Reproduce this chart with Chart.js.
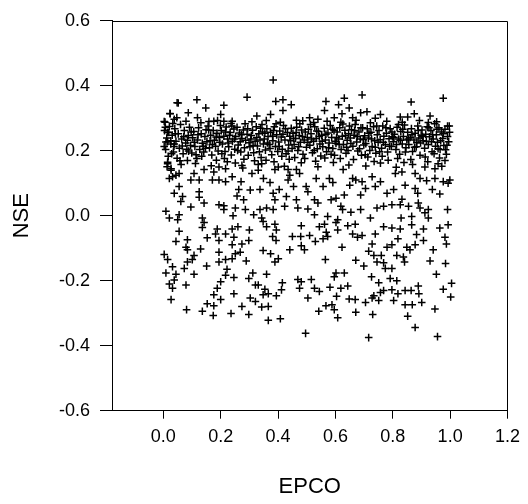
<!DOCTYPE html>
<html>
<head>
<meta charset="utf-8">
<script src="https://cdn.jsdelivr.net/npm/chart.js@4.4.1/dist/chart.umd.min.js"></script>
<style>
  html, body { margin: 0; padding: 0; background: #fff; }
</style>
</head>
<body>
<canvas id="chart" width="528" height="504"></canvas>
<script>
// --- DATA ---
const xTicks = [0.0, 0.2, 0.4, 0.6, 0.8, 1.0, 1.2];
const yTicks = [-0.6, -0.4, -0.2, 0.0, 0.2, 0.4, 0.6];

// [EPCO, NSE] pairs, split by height
const topPoints = [
  [0.048,0.348],[0.023,0.315],[0.006,0.288],[0.038,0.297],
  [0.052,0.347],[0.117,0.357],[0.148,0.332],[0.211,0.340],[0.292,0.365],[0.024,0.314],
  [0.047,0.302],[0.087,0.317],[0.119,0.302],[0.200,0.312],[0.003,0.290],[0.159,0.290],
  [0.176,0.291],[0.211,0.291],[0.240,0.291],[0.326,0.307],
  [0.383,0.418],[0.392,0.352],[0.417,0.357],[0.446,0.342],[0.417,0.324],[0.374,0.312],
  [0.567,0.352],[0.631,0.362],[0.611,0.342],[0.562,0.324],[0.648,0.332],[0.623,0.314],
  [0.464,0.294],[0.510,0.302],[0.539,0.297],[0.596,0.302],[0.660,0.302],
  [0.693,0.372],[0.864,0.350],[0.976,0.362],[0.688,0.317],[0.710,0.320],[0.757,0.312],
  [0.739,0.300],[0.826,0.304],[0.852,0.304],[0.875,0.314],[0.930,0.307],[0.924,0.287],
  [0.991,0.276],[0.820,0.281]
];

const bandPoints = [
  [0.004,0.262],[0.008,0.204],[0.012,0.239],[0.017,0.183],[0.021,0.275],[0.026,0.221],[0.031,0.248],
  [0.035,0.196],[0.040,0.268],[0.044,0.229],[0.048,0.177],[0.003,0.213],[0.019,0.256],[0.037,0.213],
  [0.052,0.252],[0.056,0.208],[0.060,0.281],[0.064,0.236],[0.069,0.191],[0.073,0.262],[0.078,0.224],
  [0.082,0.205],[0.087,0.247],[0.091,0.272],[0.095,0.216],[0.099,0.193],[0.066,0.215],[0.084,0.232],
  [0.102,0.240],[0.106,0.259],[0.110,0.213],[0.114,0.188],[0.119,0.233],[0.123,0.271],[0.127,0.204],
  [0.132,0.252],[0.136,0.223],[0.141,0.196],[0.145,0.244],[0.149,0.265],[0.117,0.176],[0.139,0.214],
  [0.152,0.228],[0.156,0.276],[0.161,0.209],[0.165,0.248],[0.169,0.187],[0.174,0.262],[0.178,0.232],
  [0.182,0.214],[0.187,0.254],[0.191,0.199],[0.195,0.241],[0.199,0.278],[0.163,0.231],[0.185,0.171],
  [0.202,0.262],[0.206,0.221],[0.211,0.245],[0.215,0.198],[0.219,0.273],[0.224,0.236],[0.228,0.212],
  [0.233,0.256],[0.237,0.187],[0.241,0.229],[0.246,0.267],[0.249,0.205],[0.213,0.176],[0.231,0.248],
  [0.252,0.244],[0.257,0.272],[0.261,0.218],[0.265,0.255],[0.270,0.196],[0.274,0.238],[0.279,0.264],
  [0.283,0.209],[0.287,0.232],[0.292,0.251],[0.296,0.186],[0.299,0.225],[0.268,0.228],[0.285,0.283],
  [0.302,0.212],[0.307,0.247],[0.311,0.263],[0.315,0.194],[0.320,0.229],[0.324,0.274],[0.328,0.215],
  [0.333,0.252],[0.337,0.233],[0.341,0.179],[0.346,0.258],[0.349,0.221],[0.318,0.169],[0.339,0.269],
  [0.352,0.236],[0.356,0.202],[0.361,0.268],[0.365,0.244],[0.369,0.219],[0.374,0.257],[0.378,0.188],
  [0.382,0.231],[0.387,0.274],[0.391,0.213],[0.395,0.249],[0.399,0.198],[0.358,0.171],[0.384,0.262],
  [0.402,0.227],[0.406,0.261],[0.411,0.242],[0.415,0.205],[0.419,0.278],[0.424,0.233],[0.428,0.191],
  [0.433,0.256],[0.437,0.218],[0.441,0.245],[0.446,0.269],[0.449,0.207],[0.413,0.183],[0.439,0.174],
  [0.452,0.254],[0.456,0.219],[0.461,0.238],[0.465,0.272],[0.469,0.201],[0.474,0.247],[0.478,0.226],
  [0.482,0.264],[0.487,0.189],[0.491,0.233],[0.495,0.258],[0.499,0.211],[0.458,0.179],[0.476,0.283],
  [0.502,0.241],[0.506,0.266],[0.511,0.217],[0.515,0.252],[0.520,0.194],[0.524,0.229],[0.528,0.274],
  [0.533,0.238],[0.537,0.206],[0.541,0.259],[0.546,0.221],[0.549,0.184],[0.513,0.281],[0.531,0.168],
  [0.552,0.248],[0.556,0.212],[0.561,0.269],[0.565,0.233],[0.569,0.197],[0.574,0.255],[0.578,0.224],
  [0.582,0.278],[0.587,0.241],[0.591,0.207],[0.595,0.262],[0.599,0.229],[0.563,0.178],[0.585,0.189],
  [0.602,0.223],[0.606,0.258],[0.611,0.236],[0.615,0.271],[0.620,0.204],[0.624,0.245],[0.628,0.219],
  [0.633,0.263],[0.637,0.192],[0.641,0.232],[0.646,0.252],[0.649,0.276],[0.617,0.176],[0.639,0.211],
  [0.652,0.239],[0.656,0.265],[0.661,0.214],[0.665,0.248],[0.669,0.281],[0.674,0.227],[0.678,0.199],
  [0.682,0.258],[0.687,0.236],[0.691,0.186],[0.695,0.271],[0.699,0.218],[0.663,0.173],[0.684,0.206],
  [0.702,0.246],[0.706,0.222],[0.711,0.268],[0.715,0.239],[0.720,0.201],[0.724,0.257],[0.728,0.213],
  [0.733,0.274],[0.737,0.231],[0.741,0.192],[0.746,0.249],[0.749,0.226],[0.713,0.181],[0.735,0.167],
  [0.752,0.262],[0.756,0.234],[0.761,0.208],[0.765,0.276],[0.769,0.245],[0.774,0.219],[0.778,0.254],
  [0.782,0.196],[0.787,0.237],[0.791,0.268],[0.795,0.213],[0.799,0.243],[0.763,0.183],[0.784,0.171],
  [0.802,0.228],[0.806,0.251],[0.811,0.204],[0.815,0.272],[0.820,0.236],[0.824,0.189],[0.828,0.259],
  [0.833,0.221],[0.837,0.244],[0.841,0.279],[0.846,0.209],[0.849,0.233],[0.817,0.176],[0.839,0.164],
  [0.852,0.257],[0.856,0.219],[0.861,0.241],[0.865,0.268],[0.869,0.198],[0.874,0.233],[0.878,0.254],
  [0.882,0.212],[0.887,0.276],[0.891,0.239],[0.895,0.186],[0.899,0.248],[0.863,0.173],[0.884,0.226],
  [0.902,0.264],[0.906,0.231],[0.911,0.208],[0.915,0.251],[0.920,0.274],[0.924,0.219],[0.928,0.243],
  [0.933,0.262],[0.937,0.197],[0.941,0.236],[0.946,0.283],[0.949,0.214],[0.913,0.181],[0.935,0.228],
  [0.952,0.249],[0.956,0.226],[0.961,0.271],[0.965,0.204],[0.969,0.258],[0.974,0.238],[0.978,0.216],
  [0.982,0.266],[0.987,0.189],[0.991,0.244],[0.995,0.228],[0.998,0.257],[0.963,0.178],[0.984,0.203]
];

// second pass over the dense band and its fringes
const bandExtra = [
  [0.007,0.272],[0.015,0.228],[0.029,0.191],[0.042,0.252],[0.058,0.169],[0.071,0.243],[0.088,0.199],[0.097,0.258],
  [0.108,0.226],[0.121,0.249],[0.134,0.183],[0.147,0.208],[0.158,0.264],[0.171,0.219],[0.184,0.242],[0.197,0.226],
  [0.204,0.191],[0.217,0.258],[0.226,0.224],[0.239,0.276],[0.248,0.236],[0.259,0.201],[0.272,0.249],[0.281,0.174],
  [0.294,0.268],[0.305,0.236],[0.313,0.216],[0.326,0.241],[0.335,0.197],[0.344,0.281],[0.354,0.254],[0.363,0.224],
  [0.372,0.207],[0.381,0.245],[0.393,0.283],[0.404,0.213],[0.417,0.251],[0.426,0.268],[0.435,0.199],[0.444,0.231],
  [0.454,0.238],[0.463,0.256],[0.472,0.212],[0.485,0.244],[0.493,0.176],[0.504,0.226],[0.517,0.236],[0.526,0.201],
  [0.535,0.261],[0.544,0.244],[0.554,0.229],[0.567,0.251],[0.576,0.209],[0.589,0.266],[0.597,0.186],[0.604,0.241],
  [0.613,0.219],[0.626,0.282],[0.635,0.247],[0.644,0.201],[0.654,0.222],[0.667,0.262],[0.676,0.243],[0.689,0.271],
  [0.697,0.234],[0.704,0.188],[0.717,0.254],[0.726,0.236],[0.739,0.211],[0.744,0.276],[0.754,0.197],[0.767,0.226],
  [0.776,0.271],[0.789,0.214],[0.797,0.258],[0.804,0.241],[0.813,0.219],[0.826,0.232],[0.835,0.266],[0.844,0.196],
  [0.854,0.236],[0.867,0.249],[0.876,0.211],[0.889,0.262],[0.897,0.224],[0.904,0.244],[0.917,0.229],[0.926,0.271],
  [0.939,0.249],[0.944,0.191],[0.954,0.266],[0.967,0.231],[0.976,0.252],[0.989,0.217],[0.997,0.276],[0.958,0.206],
  [0.013,0.151],[0.062,0.158],[0.112,0.161],[0.167,0.154],[0.223,0.166],[0.277,0.147],[0.331,0.158],[0.386,0.166],
  [0.422,0.152],[0.481,0.163],[0.539,0.151],[0.593,0.164],[0.647,0.156],[0.706,0.153],[0.757,0.162],[0.812,0.149],
  [0.869,0.158],[0.922,0.166],[0.971,0.152],
  [0.033,0.284],[0.079,0.291],[0.131,0.286],[0.189,0.293],[0.236,0.284],[0.309,0.289],[0.359,0.293],[0.408,0.288],
  [0.486,0.292],[0.524,0.287],[0.571,0.291],[0.619,0.288],[0.672,0.294],[0.722,0.286],[0.779,0.291],[0.833,0.288],
  [0.893,0.293],[0.953,0.289]
];

const midPoints = [
  [0.014,0.257],[0.009,0.227],[0.026,0.231],[0.038,0.221],[0.015,0.160],[0.027,0.145],[0.032,0.120],
  [0.015,0.165],[0.027,0.140],[0.021,0.115],[0.044,0.125],[0.055,0.130],[0.084,0.170],[0.107,0.130],
  [0.096,0.110],[0.125,0.110],[0.142,0.142],[0.176,0.135],[0.171,0.110],[0.194,0.110],[0.217,0.105],
  [0.194,0.150],[0.217,0.145],[0.240,0.120],[0.251,0.162],[0.274,0.155],[0.271,0.105],[0.309,0.130],
  [0.055,0.090],[0.038,0.069],[0.067,0.059],[0.061,0.044],[0.125,0.074],[0.125,0.057],[0.142,0.039],
  [0.194,0.034],[0.211,0.031],[0.211,0.019],[0.263,0.081],[0.257,0.061],[0.280,0.049],[0.303,0.079],
  [0.251,0.024],[0.286,0.019],[0.315,0.003],[0.243,0.000],[0.009,0.014],[0.055,0.003],[0.096,0.027],
  [0.331,0.140],[0.343,0.160],[0.389,0.142],[0.401,0.150],[0.435,0.142],[0.464,0.142],[0.475,0.130],
  [0.349,0.115],[0.372,0.102],[0.441,0.125],[0.435,0.110],[0.533,0.115],[0.579,0.115],[0.591,0.102],
  [0.627,0.142],[0.660,0.115],[0.671,0.110],[0.650,0.094],[0.337,0.081],[0.383,0.069],[0.404,0.081],
  [0.454,0.090],[0.498,0.090],[0.504,0.074],[0.557,0.090],[0.602,0.054],[0.631,0.064],[0.429,0.059],
  [0.389,0.049],[0.464,0.049],[0.527,0.049],[0.539,0.039],[0.585,0.049],[0.337,0.019],[0.360,0.024],
  [0.383,0.019],[0.423,0.029],[0.469,0.024],[0.504,0.021],[0.619,0.029],[0.625,0.019],[0.654,0.011],
  [0.527,0.003],
  [0.693,0.105],[0.728,0.120],[0.757,0.105],[0.705,0.084],[0.739,0.090],[0.688,0.064],[0.809,0.130],
  [0.832,0.135],[0.878,0.130],[0.895,0.115],[0.918,0.108],[0.947,0.115],[0.976,0.105],[0.993,0.100],
  [0.999,0.110],[0.912,0.150],[0.947,0.145],[0.982,0.170],[0.958,0.160],[0.843,0.094],[0.878,0.084],
  [0.887,0.069],[0.803,0.081],[0.780,0.069],[0.938,0.081],[0.964,0.067],[0.832,0.051],[0.797,0.034],
  [0.826,0.034],[0.768,0.029],[0.745,0.024],[0.855,0.029],[0.889,0.039],[0.895,0.024],[0.924,0.019],
  [0.991,0.019],[0.688,0.019],[0.912,0.009],[0.866,-0.002]
];

const lowPoints = [
  [0.021,-0.007],[0.050,-0.012],[0.136,-0.007],[0.343,-0.007],[0.573,-0.002],[0.608,-0.012],
  [0.722,-0.007],[0.829,-0.007],[0.924,-0.007],
  [0.055,-0.048],[0.142,-0.021],[0.188,-0.041],[0.240,-0.041],[0.260,-0.034],[0.300,-0.044],
  [0.136,-0.036],[0.182,-0.056],[0.217,-0.056],[0.246,-0.066],[0.044,-0.079],[0.084,-0.074],
  [0.153,-0.068],[0.194,-0.076],[0.240,-0.089],[0.274,-0.087],[0.298,-0.076],[0.079,-0.097],
  [0.084,-0.105],[0.130,-0.102],[0.003,-0.119],[0.015,-0.135],[0.107,-0.122],[0.101,-0.135],
  [0.084,-0.142],[0.194,-0.112],[0.251,-0.117],[0.268,-0.112],[0.240,-0.132],[0.217,-0.135],
  [0.194,-0.142],[0.289,-0.139],[0.032,-0.157],[0.073,-0.162],[0.151,-0.155],[0.222,-0.165],
  [0.009,-0.176],[0.044,-0.180],[0.107,-0.180],[0.217,-0.183],[0.246,-0.190],[0.298,-0.193],
  [0.312,-0.176],[0.038,-0.198],[0.021,-0.210],[0.032,-0.223],[0.079,-0.213],[0.200,-0.203],
  [0.188,-0.223],[0.321,-0.213],[0.176,-0.243],[0.246,-0.240],[0.027,-0.258],[0.200,-0.258],
  [0.303,-0.253],[0.321,-0.264],[0.153,-0.271],[0.176,-0.277],[0.274,-0.279],[0.081,-0.289],
  [0.136,-0.294],[0.174,-0.307],[0.236,-0.301],[0.298,-0.304],
  [0.348,-0.018],[0.360,-0.034],[0.389,-0.026],[0.394,-0.044],[0.381,-0.064],[0.393,-0.076],
  [0.481,-0.031],[0.450,-0.064],[0.479,-0.064],[0.510,-0.061],[0.530,-0.079],[0.544,-0.034],
  [0.562,-0.026],[0.568,-0.051],[0.557,-0.071],[0.573,-0.064],[0.602,-0.021],[0.608,-0.044],
  [0.643,-0.031],[0.669,-0.026],[0.660,-0.056],[0.677,-0.066],[0.348,-0.107],[0.374,-0.117],
  [0.441,-0.105],[0.481,-0.092],[0.492,-0.105],[0.623,-0.097],[0.389,-0.142],[0.401,-0.132],
  [0.565,-0.135],[0.671,-0.137],[0.360,-0.180],[0.469,-0.196],[0.481,-0.203],[0.516,-0.196],
  [0.602,-0.176],[0.631,-0.176],[0.596,-0.188],[0.331,-0.213],[0.415,-0.206],[0.412,-0.228],
  [0.354,-0.226],[0.348,-0.243],[0.366,-0.240],[0.394,-0.246],[0.475,-0.223],[0.527,-0.223],
  [0.544,-0.233],[0.581,-0.220],[0.619,-0.223],[0.643,-0.216],[0.504,-0.253],[0.604,-0.248],
  [0.648,-0.256],[0.669,-0.258],[0.343,-0.281],[0.366,-0.279],[0.567,-0.277],[0.588,-0.274],
  [0.542,-0.294],[0.596,-0.289],[0.608,-0.314],[0.671,-0.297],[0.366,-0.322],[0.408,-0.317],
  [0.496,-0.362],
  [0.768,-0.034],[0.797,-0.038],[0.826,-0.041],[0.866,-0.028],[0.907,-0.041],[0.964,-0.038],
  [0.993,-0.028],[0.693,-0.061],[0.739,-0.056],[0.728,-0.087],[0.780,-0.097],[0.797,-0.089],
  [0.818,-0.071],[0.849,-0.097],[0.860,-0.105],[0.878,-0.089],[0.883,-0.058],[0.907,-0.076],
  [0.982,-0.066],[0.987,-0.087],[0.941,-0.105],[0.716,-0.109],[0.734,-0.122],[0.760,-0.122],
  [0.814,-0.122],[0.837,-0.127],[0.745,-0.142],[0.768,-0.145],[0.841,-0.142],[0.699,-0.155],
  [0.774,-0.162],[0.797,-0.162],[0.930,-0.139],[0.984,-0.147],[0.952,-0.180],[0.726,-0.188],
  [0.791,-0.193],[0.814,-0.200],[0.751,-0.206],[0.889,-0.216],[1.005,-0.208],[0.976,-0.226],
  [0.768,-0.230],[0.797,-0.228],[0.843,-0.230],[0.864,-0.230],[0.891,-0.240],[0.734,-0.246],
  [0.757,-0.236],[0.818,-0.240],[0.728,-0.253],[0.751,-0.261],[0.705,-0.267],[0.803,-0.261],
  [0.843,-0.274],[0.868,-0.274],[0.901,-0.267],[1.002,-0.250],[0.947,-0.287],[0.730,-0.304],
  [0.852,-0.309],[0.878,-0.344],[0.716,-0.375],[0.956,-0.372]
];

// --- CHART ---
const allPoints = [].concat(topPoints, bandPoints, bandExtra, midPoints, lowPoints);
const labelFont = { family: "'Liberation Sans', Arial, sans-serif", size: 18 };
const titleFont = { family: "'Liberation Sans', Arial, sans-serif", size: 22 };

// draws the top and right edges of the box
const framePlugin = {
  id: 'frame',
  afterDraw(chart) {
    const { ctx, chartArea: a } = chart;
    ctx.save();
    ctx.strokeStyle = '#000';
    ctx.lineWidth = 1;
    ctx.beginPath();
    ctx.moveTo(Math.round(a.left), Math.round(a.top) + 0.5);
    ctx.lineTo(Math.round(a.right) + 0.5, Math.round(a.top) + 0.5);
    ctx.lineTo(Math.round(a.right) + 0.5, Math.round(a.bottom));
    ctx.stroke();
    ctx.restore();
  }
};

new Chart(document.getElementById('chart').getContext('2d'), {
  type: 'scatter',
  data: {
    datasets: [{
      data: allPoints.map(p => ({ x: p[0], y: p[1] })),
      pointStyle: 'cross',
      pointRadius: 3.8,
      pointHoverRadius: 3.8,
      borderColor: '#000',
      backgroundColor: '#000',
      pointBorderWidth: 1.5
    }]
  },
  options: {
    responsive: false,
    animation: false,
    devicePixelRatio: 1,
    layout: { padding: { top: 15, right: 17, left: 0, bottom: 0 } },
    plugins: { legend: { display: false }, tooltip: { enabled: false } },
    scales: {
      x: {
        type: 'linear',
        min: -0.179,
        max: 1.2,
        afterBuildTicks: s => { s.ticks = xTicks.map(v => ({ value: v })); },
        afterFit: s => { s.height = 93.3; },
        grid: { drawOnChartArea: false, tickLength: 8, color: '#000' },
        border: { color: '#000', width: 1 },
        ticks: { color: '#000', font: labelFont, padding: 8, maxRotation: 0, callback: v => Number(v).toFixed(1) },
        title: { display: true, text: 'EPCO', color: '#000', font: titleFont, padding: { top: 0, bottom: 4 } }
      },
      y: {
        type: 'linear',
        min: -0.6,
        max: 0.6,
        afterBuildTicks: s => { s.ticks = yTicks.map(v => ({ value: v })); },
        afterFit: s => { s.width = 112; },
        grid: { drawOnChartArea: false, tickLength: 12, color: '#000' },
        border: { color: '#000', width: 1 },
        ticks: { color: '#000', font: labelFont, padding: 10, callback: v => Number(v).toFixed(1) },
        title: { display: true, text: 'NSE', color: '#000', font: titleFont, padding: { top: 9, bottom: 0 } }
      }
    }
  },
  plugins: [framePlugin]
});
</script>
</body>
</html>
